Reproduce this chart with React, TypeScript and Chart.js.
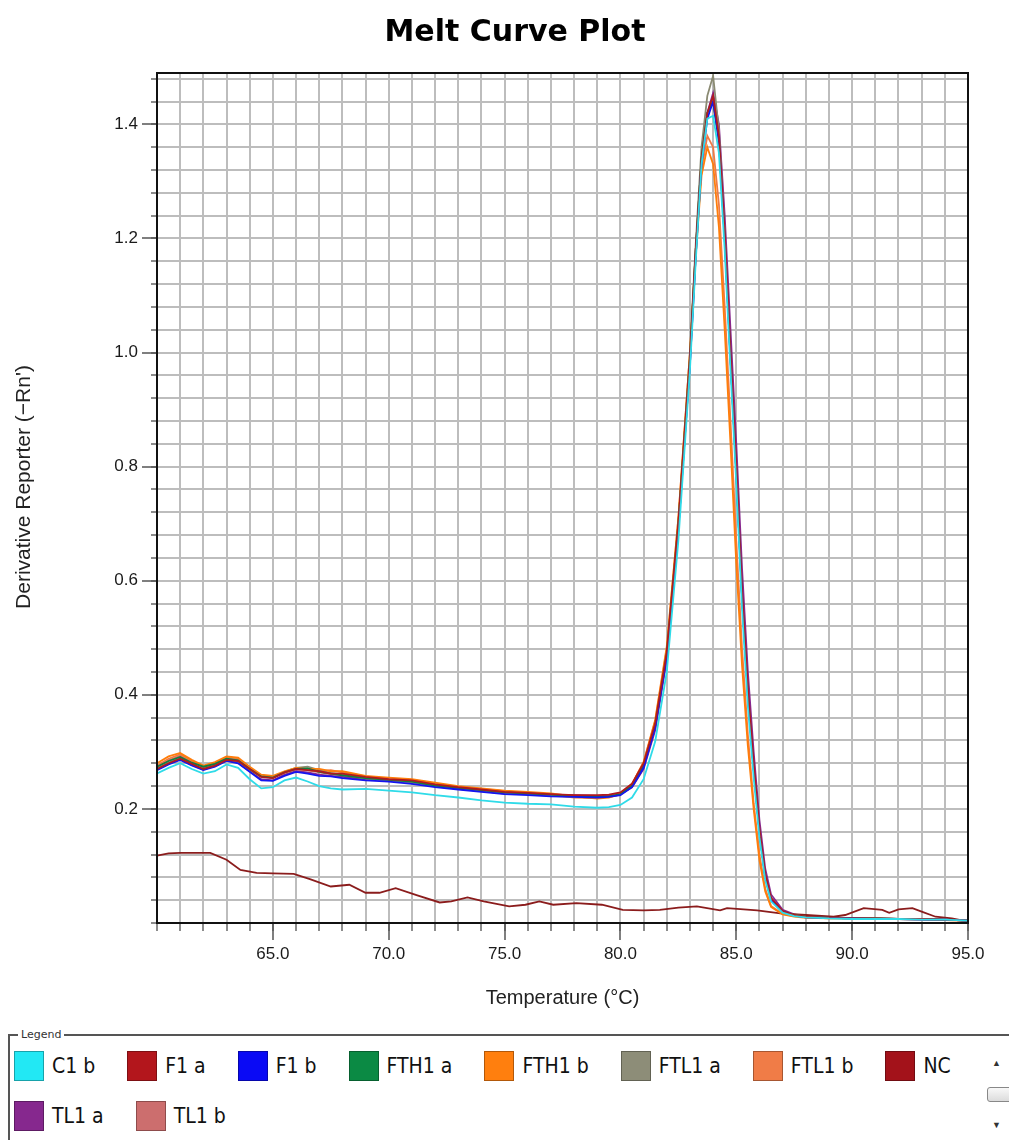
import React, { useEffect, useRef } from 'react';
import { Chart, registerables } from 'chart.js';

Chart.register(...registerables);

const TITLE = 'Melt Curve Plot';
const X_TITLE = 'Temperature (°C)';
const Y_TITLE = "Derivative Reporter (\u2212Rn')";

const X_MIN = 60;
const X_MAX = 95;
const Y_MIN = 0;
const Y_MAX = 1.49;
const X_STEP = 1;
const Y_STEP = 0.04;
const X_LABEL_EVERY = 5;
const Y_LABEL_EVERY = 0.2;

const TEMPS = [
  60, 60.5, 61, 61.5, 62, 62.5, 63, 63.5, 64, 64.5, 65, 65.5, 66, 66.5, 67, 67.5, 68,
  69, 70, 71, 72, 73, 74, 75, 76, 77, 78, 79,
  79.5, 80, 80.5, 81, 81.5, 82, 82.5, 83,
  83.25, 83.5, 83.75, 84, 84.25, 84.5, 84.75, 85, 85.25, 85.5, 85.75, 86, 86.25, 86.5,
  87, 87.5, 88, 89, 90, 91, 92, 93, 94, 95,
];

const C1_B = [
  0.262, 0.272, 0.280, 0.270, 0.262, 0.266, 0.278, 0.272, 0.252, 0.236, 0.238, 0.250, 0.255, 0.248, 0.240, 0.236, 0.234,
  0.235, 0.232, 0.229, 0.224, 0.220, 0.215, 0.211, 0.209, 0.208, 0.204, 0.202,
  0.203, 0.207, 0.220, 0.252, 0.318, 0.440, 0.670, 0.970,
  1.160, 1.330, 1.410, 1.415, 1.350, 1.180, 0.970, 0.770, 0.550, 0.380, 0.255, 0.150, 0.075, 0.038,
  0.018, 0.012, 0.010, 0.008, 0.007, 0.007, 0.007, 0.006, 0.006, 0.004,
];
const F1_A = [
  0.270, 0.280, 0.288, 0.279, 0.270, 0.276, 0.286, 0.284, 0.270, 0.256, 0.254, 0.264, 0.270, 0.268, 0.266, 0.262, 0.262,
  0.256, 0.252, 0.250, 0.243, 0.238, 0.234, 0.230, 0.228, 0.226, 0.224, 0.224,
  0.225, 0.229, 0.244, 0.280, 0.350, 0.475, 0.700, 0.990,
  1.180, 1.340, 1.420, 1.450, 1.380, 1.210, 1.000, 0.800, 0.580, 0.410, 0.280, 0.165, 0.085, 0.044,
  0.021, 0.014, 0.011, 0.009, 0.008, 0.008, 0.007, 0.007, 0.006, 0.004,
];
const F1_B = [
  0.268, 0.278, 0.286, 0.276, 0.268, 0.274, 0.284, 0.280, 0.265, 0.250, 0.249, 0.258, 0.265, 0.262, 0.258, 0.257, 0.254,
  0.250, 0.248, 0.244, 0.238, 0.234, 0.230, 0.226, 0.224, 0.222, 0.221, 0.220,
  0.221, 0.224, 0.238, 0.272, 0.342, 0.466, 0.690, 0.980,
  1.170, 1.330, 1.410, 1.440, 1.370, 1.200, 0.990, 0.790, 0.570, 0.400, 0.270, 0.160, 0.080, 0.041,
  0.020, 0.013, 0.010, 0.009, 0.008, 0.007, 0.007, 0.006, 0.006, 0.004,
];
const FTH1_A = [
  0.274, 0.284, 0.291, 0.281, 0.274, 0.279, 0.288, 0.285, 0.270, 0.257, 0.255, 0.264, 0.270, 0.271, 0.265, 0.262, 0.259,
  0.254, 0.251, 0.248, 0.241, 0.237, 0.233, 0.229, 0.227, 0.225, 0.222, 0.221,
  0.222, 0.226, 0.241, 0.276, 0.346, 0.472, 0.700, 0.990,
  1.180, 1.340, 1.420, 1.440, 1.370, 1.200, 0.990, 0.790, 0.570, 0.400, 0.270, 0.160, 0.080, 0.042,
  0.020, 0.014, 0.011, 0.009, 0.008, 0.008, 0.007, 0.007, 0.006, 0.004,
];
const FTH1_B = [
  0.280, 0.292, 0.298, 0.286, 0.276, 0.282, 0.292, 0.290, 0.274, 0.260, 0.258, 0.266, 0.272, 0.270, 0.270, 0.266, 0.266,
  0.258, 0.255, 0.252, 0.246, 0.240, 0.236, 0.232, 0.230, 0.227, 0.222, 0.218,
  0.220, 0.226, 0.243, 0.282, 0.356, 0.485, 0.710, 1.000,
  1.170, 1.310, 1.360, 1.330, 1.220, 1.040, 0.840, 0.630, 0.450, 0.310, 0.200, 0.110, 0.055, 0.028,
  0.015, 0.011, 0.009, 0.008, 0.008, 0.007, 0.007, 0.006, 0.005, 0.004,
];
const FTL1_A = [
  0.271, 0.281, 0.289, 0.278, 0.270, 0.277, 0.287, 0.283, 0.268, 0.256, 0.254, 0.265, 0.272, 0.274, 0.268, 0.263, 0.260,
  0.253, 0.250, 0.247, 0.240, 0.236, 0.232, 0.228, 0.226, 0.223, 0.221, 0.220,
  0.221, 0.225, 0.239, 0.274, 0.345, 0.472, 0.700, 1.000,
  1.190, 1.360, 1.450, 1.485, 1.390, 1.210, 0.990, 0.790, 0.570, 0.400, 0.270, 0.160, 0.080, 0.042,
  0.020, 0.014, 0.011, 0.009, 0.008, 0.008, 0.007, 0.007, 0.006, 0.004,
];
const FTL1_B = [
  0.276, 0.288, 0.296, 0.284, 0.275, 0.280, 0.291, 0.288, 0.272, 0.258, 0.256, 0.263, 0.270, 0.268, 0.266, 0.268, 0.264,
  0.257, 0.252, 0.250, 0.244, 0.239, 0.235, 0.231, 0.228, 0.225, 0.220, 0.219,
  0.221, 0.227, 0.244, 0.282, 0.354, 0.480, 0.710, 1.000,
  1.180, 1.320, 1.380, 1.360, 1.260, 1.080, 0.880, 0.670, 0.480, 0.330, 0.210, 0.120, 0.060, 0.030,
  0.016, 0.012, 0.010, 0.008, 0.008, 0.007, 0.007, 0.006, 0.005, 0.004,
];
const TL1_A = [
  0.269, 0.279, 0.287, 0.277, 0.269, 0.275, 0.285, 0.281, 0.266, 0.252, 0.250, 0.260, 0.266, 0.264, 0.260, 0.258, 0.256,
  0.252, 0.251, 0.249, 0.240, 0.235, 0.231, 0.227, 0.226, 0.225, 0.224, 0.223,
  0.223, 0.226, 0.238, 0.270, 0.338, 0.462, 0.690, 0.980,
  1.170, 1.330, 1.420, 1.455, 1.400, 1.240, 1.040, 0.840, 0.620, 0.440, 0.300, 0.180, 0.095, 0.050,
  0.023, 0.015, 0.011, 0.009, 0.008, 0.008, 0.007, 0.007, 0.006, 0.004,
];
const TL1_B = [
  0.273, 0.285, 0.293, 0.282, 0.273, 0.278, 0.289, 0.286, 0.271, 0.257, 0.255, 0.263, 0.269, 0.268, 0.264, 0.261, 0.259,
  0.255, 0.250, 0.246, 0.242, 0.238, 0.233, 0.229, 0.227, 0.224, 0.222, 0.222,
  0.223, 0.227, 0.242, 0.277, 0.348, 0.474, 0.700, 0.990,
  1.180, 1.340, 1.420, 1.440, 1.380, 1.210, 1.000, 0.800, 0.580, 0.410, 0.280, 0.165, 0.085, 0.044,
  0.021, 0.014, 0.011, 0.009, 0.008, 0.008, 0.007, 0.007, 0.006, 0.004,
];

const NC_TEMPS = [
  60, 60.5, 61, 62, 62.3, 63, 63.6, 64.3, 65, 65.9, 66.6, 67.5, 68.3, 69, 69.6, 70.3, 71.2, 72.2, 72.7, 73.4,
  74.1, 75.2, 75.9, 76.5, 77.1, 78.1, 79.2, 80.1, 81, 81.7, 82.5, 83.3, 84.3, 84.6, 85.9, 86.9, 88, 89.2, 89.7,
  90.5, 91.3, 91.6, 92, 92.6, 93, 93.6, 94.3, 94.8, 95,
];
const NC = [
  0.118, 0.122, 0.123, 0.123, 0.123, 0.111, 0.093, 0.088, 0.087, 0.086, 0.077, 0.064, 0.067, 0.053, 0.053, 0.061,
  0.049, 0.036, 0.038, 0.045, 0.038, 0.029, 0.032, 0.038, 0.032, 0.035, 0.032, 0.023, 0.022, 0.023, 0.027, 0.029,
  0.022, 0.026, 0.022, 0.017, 0.014, 0.011, 0.014, 0.026, 0.023, 0.018, 0.024, 0.026, 0.020, 0.011, 0.008, 0.004,
  0.003,
];

const SERIES_NAMES = ['C1 b', 'F1 a', 'F1 b', 'FTH1 a', 'FTH1 b', 'FTL1 a', 'FTL1 b', 'NC', 'TL1 a', 'TL1 b'];
const SERIES_VALUES = [C1_B, F1_A, F1_B, FTH1_A, FTH1_B, FTL1_A, FTL1_B, NC, TL1_A, TL1_B];
const SERIES_TEMPS = [TEMPS, TEMPS, TEMPS, TEMPS, TEMPS, TEMPS, TEMPS, NC_TEMPS, TEMPS, TEMPS];
const LINE_COLORS = ['#2fdbe8', '#b01a1e', '#1414f0', '#0e8040', '#ff7d0a', '#8a8a72', '#ef7a45', '#8b1c1c', '#87288f', '#cf7070'];
const LEGEND_COLORS = ['#22e8f4', '#b3161c', '#0a0af5', '#0b8a44', '#ff7f0e', '#8d8d78', '#f07c47', '#a3121a', '#86288e', '#cc6e6e'];

const AXIS_FONT = '"Liberation Sans", Arial, sans-serif';
const LEGEND_FONT = '"Liberation Sans Narrow", "DejaVu Sans Condensed", "DejaVu Sans", sans-serif';

const isMultiple = (v: number, step: number) => Math.abs(v / step - Math.round(v / step)) < 1e-6;

const decorPlugin = {
  id: 'decor',
  afterDraw(chart: any) {
    const { ctx, chartArea: a, scales } = chart;
    ctx.save();
    ctx.strokeStyle = '#555';
    ctx.lineWidth = 1.5;
    ctx.beginPath();
    scales.y.ticks.forEach((t: any) => {
      if (t.value > 0.001 && isMultiple(t.value, Y_LABEL_EVERY)) {
        const y = Math.round(scales.y.getPixelForValue(t.value));
        ctx.moveTo(a.left - 15, y);
        ctx.lineTo(a.left, y);
      }
    });
    scales.x.ticks.forEach((t: any) => {
      if (t.value > X_MIN && isMultiple(t.value, X_LABEL_EVERY)) {
        const x = Math.round(scales.x.getPixelForValue(t.value));
        ctx.moveTo(x, a.bottom);
        ctx.lineTo(x, a.bottom + 17);
      }
    });
    ctx.stroke();

    ctx.strokeStyle = '#111';
    ctx.lineWidth = 2;
    ctx.strokeRect(a.left, a.top, a.right - a.left, a.bottom - a.top);

    ctx.fillStyle = '#000';
    ctx.font = 'bold 30px "DejaVu Sans", sans-serif';
    ctx.textAlign = 'center';
    ctx.textBaseline = 'middle';
    ctx.fillText(TITLE, 515, 33);

    ctx.translate(24, 487);
    ctx.rotate(-Math.PI / 2);
    ctx.font = '21px ' + AXIS_FONT;
    ctx.fillStyle = '#222';
    ctx.fillText(Y_TITLE, 0, 0);
    ctx.restore();
  },
};

function MeltChart() {
  const ref = useRef<HTMLCanvasElement | null>(null);
  useEffect(() => {
    if (!ref.current) return;
    const datasets = SERIES_NAMES.map((name, i) => ({
      label: name,
      data: SERIES_TEMPS[i].map((t, j) => ({ x: t, y: SERIES_VALUES[i][j] })),
      borderColor: LINE_COLORS[i],
      backgroundColor: LINE_COLORS[i],
      borderWidth: 1.8,
      pointRadius: 0,
      tension: 0,
      fill: false,
    }));
    const chart = new Chart(ref.current, {
      type: 'line',
      data: { datasets },
      plugins: [decorPlugin],
      options: {
        responsive: false,
        animation: false,
        layout: { padding: { top: 73, right: 41, left: 0, bottom: 0 } },
        plugins: {
          legend: { display: false },
          title: { display: false },
          tooltip: { enabled: false },
        },
        scales: {
          x: {
            type: 'linear',
            min: X_MIN,
            max: X_MAX,
            afterFit: (s: any) => {
              s.height = 97;
            },
            ticks: {
              stepSize: X_STEP,
              autoSkip: false,
              maxRotation: 0,
              minRotation: 0,
              includeBounds: false,
              padding: 13,
              color: '#1a1a1a',
              font: { family: AXIS_FONT, size: 17 },
              callback: (v: any) => (v > X_MIN && isMultiple(Number(v), X_LABEL_EVERY) ? Number(v).toFixed(1) : ''),
            },
            grid: { color: '#bdbdbd', lineWidth: 2, tickLength: 8, tickColor: '#666', tickWidth: 1.5 },
            border: { display: false },
            title: {
              display: true,
              text: X_TITLE,
              color: '#222',
              font: { family: AXIS_FONT, size: 20 },
              padding: { top: 0, bottom: 10 },
            },
          },
          y: {
            type: 'linear',
            min: Y_MIN,
            max: Y_MAX,
            afterFit: (s: any) => {
              s.width = 157;
            },
            ticks: {
              stepSize: Y_STEP,
              autoSkip: false,
              includeBounds: false,
              padding: 13,
              color: '#1a1a1a',
              font: { family: AXIS_FONT, size: 17 },
              callback: (v: any) => (Number(v) > 0.001 && isMultiple(Number(v), Y_LABEL_EVERY) ? Number(v).toFixed(1) : ''),
            },
            grid: { color: '#bdbdbd', lineWidth: 2, tickLength: 6, tickColor: '#666', tickWidth: 1.5 },
            border: { display: false },
          },
        },
      } as any,
    });
    return () => chart.destroy();
  }, []);
  return <canvas ref={ref} width={1009} height={1020} style={{ position: 'absolute', left: 0, top: 0 }} />;
}

function LegendEntry({ name, color }: { name: string; color: string }) {
  return (
    <div style={{ display: 'flex', alignItems: 'center', height: 30, marginRight: 32 }}>
      <div
        style={{
          width: 30,
          height: 30,
          boxSizing: 'border-box',
          background: color,
          border: '1px solid rgba(0,0,0,0.3)',
          marginRight: 8,
        }}
      />
      <span style={{ fontFamily: LEGEND_FONT, fontSize: 21, color: '#111', whiteSpace: 'nowrap' }}>{name}</span>
    </div>
  );
}

function Legend() {
  const rows = [SERIES_NAMES.slice(0, 8), SERIES_NAMES.slice(8)];
  let idx = 0;
  return (
    <div
      style={{
        position: 'absolute',
        left: 8,
        top: 1034,
        width: 1001,
        height: 106,
        borderLeft: '2px solid #555',
        borderTop: '2px solid #555',
        boxSizing: 'border-box',
      }}
    >
      <span
        style={{
          position: 'absolute',
          left: 8,
          top: -8,
          background: '#fff',
          padding: '0 3px',
          fontSize: 11,
          lineHeight: '14px',
          fontFamily: '"DejaVu Sans", sans-serif',
          color: '#333',
        }}
      >
        Legend
      </span>
      {rows.map((row, r) => (
        <div key={r} style={{ position: 'absolute', left: 4, top: 15 + r * 50, display: 'flex' }}>
          {row.map((name) => {
            const i = idx++;
            return <LegendEntry key={name} name={name} color={LEGEND_COLORS[i]} />;
          })}
        </div>
      ))}
      <div style={{ position: 'absolute', left: 982, top: 22, fontSize: 9, color: '#333' }}>▲</div>
      <div
        style={{
          position: 'absolute',
          left: 977,
          top: 51,
          width: 30,
          height: 15,
          border: '1px solid #888',
          borderRadius: 3,
          background: 'linear-gradient(#f8f8f8, #dcdcdc)',
          boxSizing: 'border-box',
        }}
      />
      <div style={{ position: 'absolute', left: 982, top: 84, fontSize: 9, color: '#333' }}>▼</div>
    </div>
  );
}

export default function App() {
  return (
    <div style={{ position: 'absolute', left: 0, top: 0, width: 1009, height: 1140, background: '#fff', overflow: 'hidden' }}>
      <MeltChart />
      <Legend />
    </div>
  );
}
